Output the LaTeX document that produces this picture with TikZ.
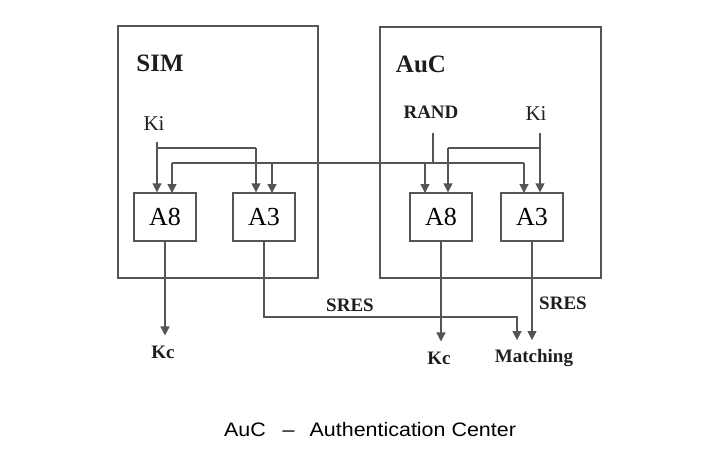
\documentclass[tikz,border=0pt]{standalone}
\usepackage{fontspec}
\setmainfont{Liberation Serif}
\newfontfamily\capfont{Liberation Sans}[FakeStretch=1.1]
\usetikzlibrary{arrows.meta}
\definecolor{linegray}{RGB}{85,85,85}
\definecolor{inkgray}{RGB}{30,30,30}
\tikzset{
  wire/.style={draw=linegray, line width=1.3pt},
  arr/.style={wire, -{Triangle[width=9pt,length=9pt]}},
  unit/.style={draw=linegray, line width=1.3pt, minimum width=62pt, minimum height=48pt, inner sep=0pt, font=\fontsize{26}{26}\selectfont},
  outer/.style={draw=linegray, line width=1.3pt, inner sep=0pt},
  title/.style={inner sep=0pt, text=inkgray, font=\fontsize{25}{25}\selectfont\bfseries},
  sig/.style={inner sep=0pt, text=inkgray, font=\fontsize{21}{21}\selectfont},
  sigb/.style={inner sep=0pt, text=inkgray, font=\fontsize{19}{19}\selectfont\bfseries}
}
\begin{document}
\begin{tikzpicture}[x=1pt, y=-1pt]
  \useasboundingbox (0,0) rectangle (720,463);

  % outer boxes
  \node[outer, minimum width=200pt, minimum height=252pt] (sim) at (218,152) {};
  \node[outer, minimum width=221pt, minimum height=251pt] (auc) at (490.5,152.5) {};
  \node[title] (simlbl) at (160,63) {SIM};
  \node[title] (auclbl) at (421,64) {AuC};

  % algorithm units
  \node[unit] (a8s) at (165,217) {A8};
  \node[unit] (a3s) at (264,217) {A3};
  \node[unit] (a8a) at (441,217) {A8};
  \node[unit] (a3a) at (532,217) {A3};

  % inputs
  \node[sig] (kis) at (154,124) {Ki};
  \node[sigb] (rand) at (431,112) {RAND};
  \node[sig] (kia) at (536,114) {Ki};

  \coordinate (kistop) at (157,142);
  \coordinate (kisbend) at (256,148);
  \draw[arr] (kistop) -- (kistop |- a8s.north);
  \draw[wire] (kistop) |- (kisbend);
  \draw[arr] (kisbend) -- (kisbend |- a3s.north);

  \coordinate (randtop) at (433,133);
  \coordinate (randl) at (172,163);
  \coordinate (randr) at (524,163);
  \draw[wire] (randtop) -- (randtop |- randl);
  \draw[wire] (randl) -- (randr);
  \foreach \x in {172,272,425,524} {
    \draw[arr] (\x,163) -- (\x,193);
  }

  \coordinate (kiatop) at (540,133);
  \coordinate (kiabend) at (448,148);
  \draw[arr] (kiatop) -- (kiatop |- a3a.north);
  \draw[wire] (kiatop) |- (kiabend);
  \draw[arr] (kiabend) -- (kiabend |- a8a.north);

  % outputs
  \node[sigb] (kcs) at (163,352) {Kc};
  \node[sigb] (kca) at (439,358) {Kc};
  \node[sigb] (match) at (534,358) {Matching};
  \node[sigb] (sres1) at (350,305) {SRES};
  \node[sigb] (sres2) at (563,303) {SRES};

  \draw[arr, shorten >=10pt] (a8s.south) -- (a8s.south |- kcs.north);
  \draw[arr, shorten >=10pt] (a8a.south) -- (a8a.south |- kca.north);
  \coordinate (sresbend) at (517,317);
  \draw[arr, shorten >=9pt] (a3s.south) |- (sresbend) -- (sresbend |- match.north);
  \draw[arr, shorten >=9pt] (a3a.south) -- (a3a.south |- match.north);

  % caption
  \node[inner sep=0pt, font=\capfont\fontsize{19.5}{19.5}\selectfont] (cap) at (370,430)
    {AuC\hspace{17pt}–\hspace{15pt}Authentication Center};
\end{tikzpicture}
\end{document}
